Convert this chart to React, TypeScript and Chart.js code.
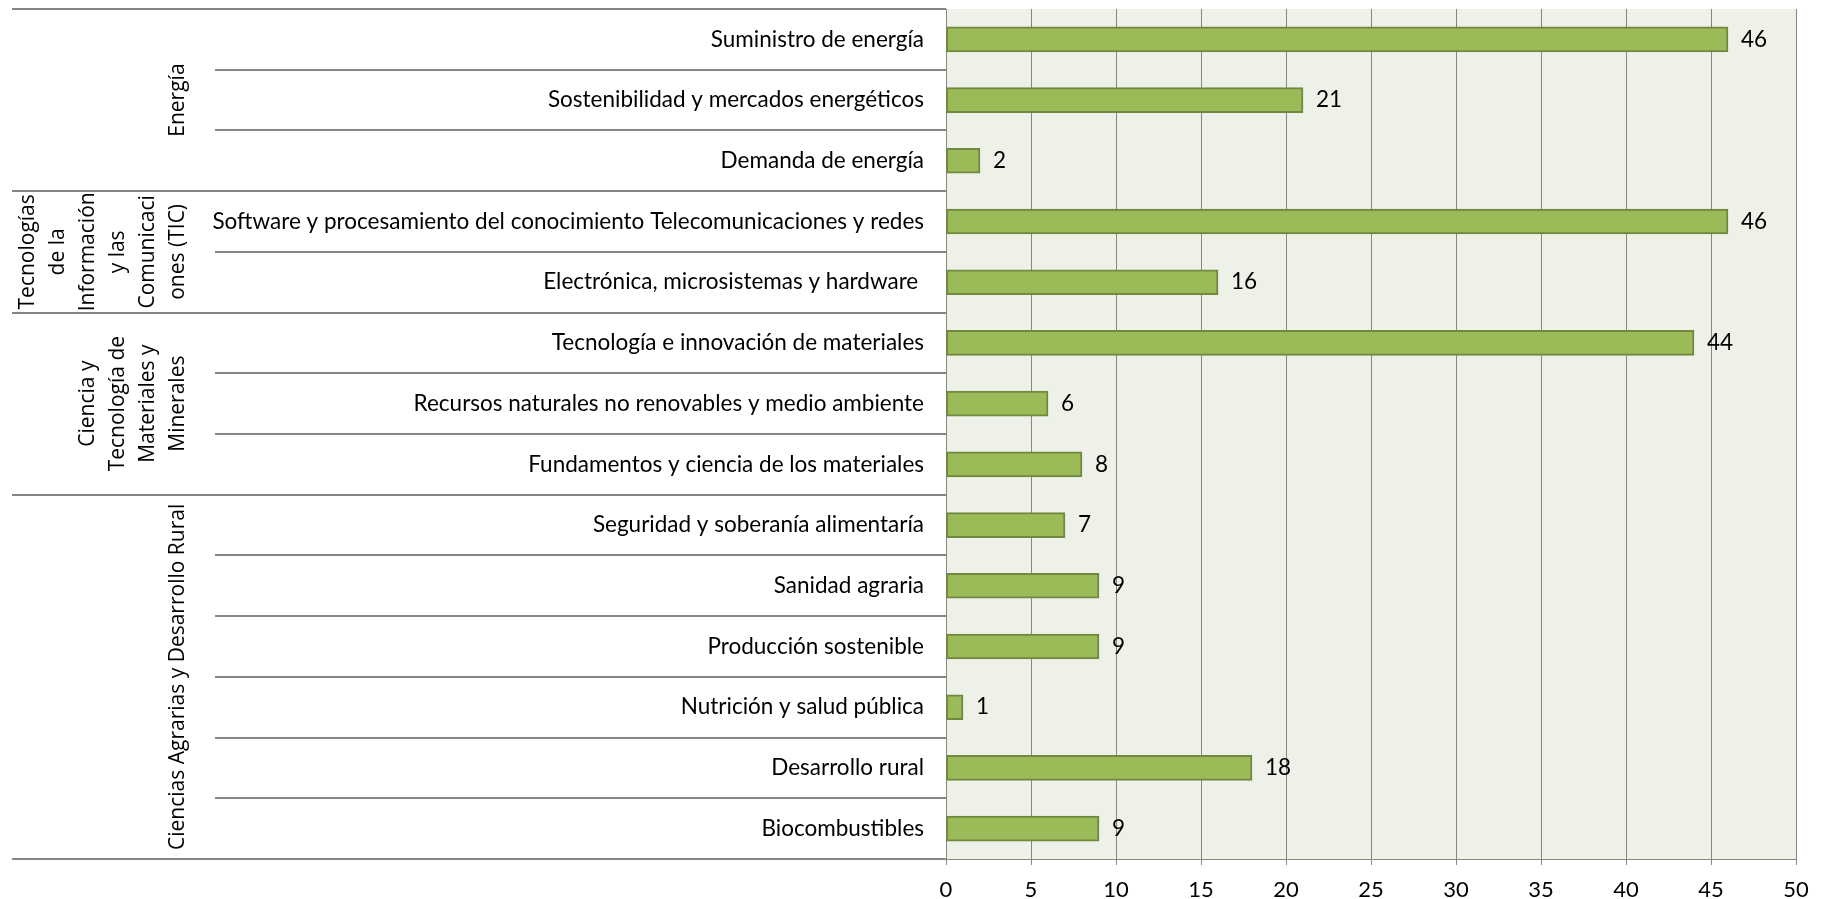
import React, { useEffect, useRef } from "react";
import { Chart, registerables } from "chart.js";

Chart.register(...registerables);

const categories = [
  "Suministro de energía",
  "Sostenibilidad y mercados energéticos",
  "Demanda de energía",
  "Software y procesamiento del conocimiento Telecomunicaciones y redes",
  "Electrónica, microsistemas y hardware ",
  "Tecnología e innovación de materiales",
  "Recursos naturales no renovables y medio ambiente",
  "Fundamentos y ciencia de los materiales",
  "Seguridad y soberanía alimentaría",
  "Sanidad agraria",
  "Producción sostenible",
  "Nutrición y salud pública",
  "Desarrollo rural",
  "Biocombustibles",
];

const values = [46, 21, 2, 46, 16, 44, 6, 8, 7, 9, 9, 1, 18, 9];

const xTickValues = [0, 5, 10, 15, 20, 25, 30, 35, 40, 45, 50];

const groupLabels = [
  ["Energía"],
  ["Tecnologías", "de la", "Información", "y las", "Comunicaci", "ones (TIC)"],
  ["Ciencia y", "Tecnología de", "Materiales y", "Minerales"],
  ["Ciencias Agrarias y Desarrollo Rural"],
];
const groupStarts = [0, 3, 5, 8];
const groupEnds = [2, 4, 7, 13];

const LABEL_FONT = "Lato, 'Open Sans', sans-serif";
const GROUP_FONT = "'Open Sans', sans-serif";
const LINE_GRAY = "#868686";

const decorPlugin = {
  id: "decor",
  beforeDraw(chart: any) {
    const { ctx, chartArea } = chart;
    ctx.save();
    ctx.fillStyle = "#EEF1E8";
    ctx.fillRect(chartArea.left, chartArea.top, chartArea.right - chartArea.left, chartArea.bottom - chartArea.top);
    ctx.restore();
  },
  afterDraw(chart: any) {
    const { ctx, chartArea } = chart;
    const n = categories.length;
    const h = (chartArea.bottom - chartArea.top) / n;
    const groupBoundaries = new Set<number>([0, ...groupEnds.map((e) => e + 1)]);
    ctx.save();
    ctx.strokeStyle = LINE_GRAY;
    ctx.lineWidth = 2;
    for (let k = 0; k <= n; k++) {
      const y = Math.round(chartArea.top + k * h);
      const x0 = groupBoundaries.has(k) ? 12 : 215;
      ctx.beginPath();
      ctx.moveTo(x0, y);
      ctx.lineTo(chartArea.left, y);
      ctx.stroke();
    }
    const yScale = chart.scales.y;
    // category labels
    ctx.fillStyle = "#000";
    ctx.font = `22.5px ${LABEL_FONT}`;
    ctx.textAlign = "right";
    ctx.textBaseline = "middle";
    categories.forEach((c, i) => {
      ctx.fillText(c, chartArea.left - 22, yScale.getPixelForValue(i));
    });
    // group labels
    ctx.font = `21px ${GROUP_FONT}`;
    ctx.textAlign = "center";
    ctx.textBaseline = "middle";
    groupLabels.forEach((lines, gi) => {
      const yTop = yScale.getPixelForValue(groupStarts[gi]) - h / 2;
      const yBot = yScale.getPixelForValue(groupEnds[gi]) + h / 2;
      const cy = (yTop + yBot) / 2;
      const m = lines.length;
      lines.forEach((line, li) => {
        const cx = 178 - (m - 1 - li) * 30;
        ctx.save();
        ctx.translate(cx, cy);
        ctx.rotate(-Math.PI / 2);
        ctx.fillText(line, 0, 0);
        ctx.restore();
      });
    });
    ctx.restore();
  },
  afterDatasetsDraw(chart: any) {
    const { ctx } = chart;
    const meta = chart.getDatasetMeta(0);
    ctx.save();
    ctx.fillStyle = "#000";
    ctx.font = `22.5px ${LABEL_FONT}`;
    ctx.textAlign = "left";
    ctx.textBaseline = "middle";
    meta.data.forEach((el: any, i: number) => {
      ctx.fillText(String(values[i]), el.x + 13, el.y);
    });
    ctx.restore();
  },
};

export default function App() {
  const ref = useRef<HTMLCanvasElement | null>(null);
  useEffect(() => {
    if (!ref.current) return;
    const chart = new Chart(ref.current, {
      type: "bar",
      data: {
        labels: categories,
        datasets: [
          {
            data: values,
            backgroundColor: "#9BBB59",
            borderColor: "#71893F",
            borderWidth: 2,
            borderSkipped: false,
            barThickness: 25,
          },
        ],
      },
      options: {
        indexAxis: "y",
        responsive: false,
        animation: false,
        devicePixelRatio: 1,
        layout: { padding: { top: 9, right: 26, left: 0, bottom: 0 } },
        plugins: {
          legend: { display: false },
          tooltip: { enabled: false },
        },
        scales: {
          x: {
            min: 0,
            max: 50,
            afterBuildTicks: (scale: any) => {
              scale.ticks = xTickValues.map((v) => ({ value: v }));
            },
            afterFit: (scale: any) => {
              scale.height = 40;
              scale.paddingRight = 0;
              scale.paddingLeft = 0;
            },
            grid: { color: LINE_GRAY, lineWidth: 1, tickLength: 6, drawTicks: true },
            border: { display: true, color: LINE_GRAY, width: 1 },
            ticks: {
              color: "#000",
              font: { family: LABEL_FONT, size: 22 },
              padding: 12,
              maxRotation: 0,
            },
          },
          y: {
            afterFit: (scale: any) => {
              scale.width = 946;
            },
            grid: { display: false },
            border: { display: true, color: LINE_GRAY, width: 1 },
            ticks: { display: false },
          },
        },
      },
      plugins: [decorPlugin],
    } as any);
    return () => chart.destroy();
  }, []);
  return (
    <div style={{ position: "absolute", left: 0, top: 0, width: 1822, height: 899 }}>
      <canvas ref={ref} width={1822} height={899} style={{ display: "block" }} />
    </div>
  );
}
